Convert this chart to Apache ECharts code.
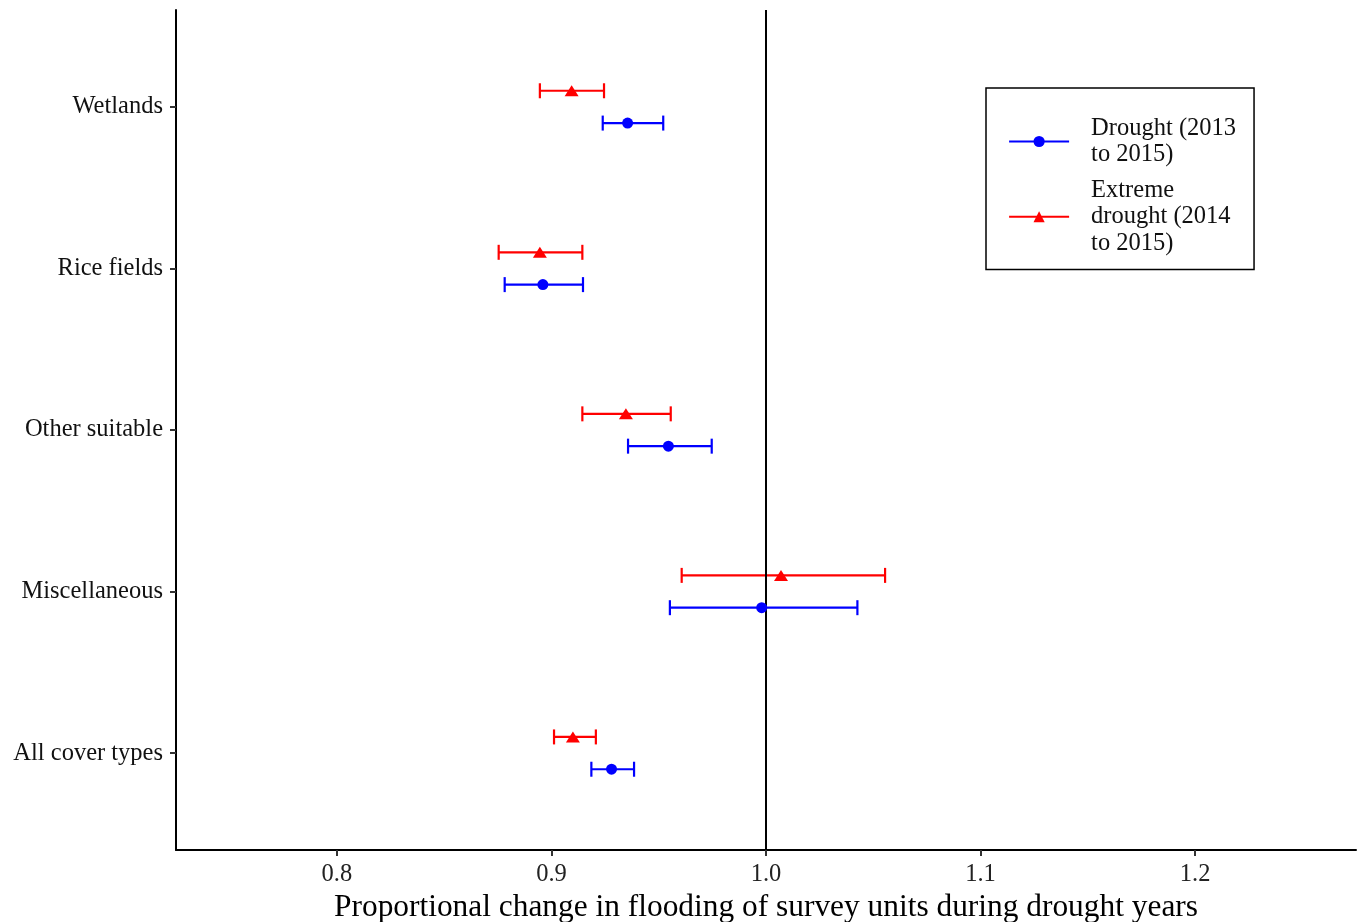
<!DOCTYPE html>
<html lang="en" style="height: 100%">
<head>
  <meta charset="utf-8">
</head>
<body style="height: 100%; margin: 0">
  <div id="container" style="width: 1361px; height: 922px"></div>

  <script type="text/javascript" src="https://cdn.jsdelivr.net/npm/echarts@6/dist/echarts.min.js"></script>
  <script type="text/javascript">
    // cover types, bottom to top (y = 1..5)
    var coverTypes = ['All cover types', 'Miscellaneous', 'Other suitable', 'Rice fields', 'Wetlands'];

    // Drought (2013 to 2015)
    var droughtMean = [0.928, 0.998, 0.9545, 0.896, 0.9355];
    var droughtLow = [0.9186, 0.9552, 0.9357, 0.8782, 0.9239];
    var droughtHigh = [0.9385, 1.0426, 0.9747, 0.9147, 0.9521];

    // Extreme drought (2014 to 2015)
    var extremeMean = [0.910, 1.007, 0.9347, 0.8946, 0.9094];
    var extremeLow = [0.9012, 0.9607, 0.9144, 0.8754, 0.8946];
    var extremeHigh = [0.9207, 1.0555, 0.9556, 0.9144, 0.9245];

    var xTicks = [0.8, 0.9, 1.0, 1.1, 1.2];

    var FONT = '"Liberation Serif", "DejaVu Serif", serif';
    var BLUE = '#0000ff';
    var RED = '#ff0000';
    var DODGE = 0.1;

    var dom = document.getElementById('container');
    var myChart = echarts.init(dom, null, { renderer: 'canvas' });

    function yPos(i, off) { return i + 1 + off; }

    function barData(low, high, off) {
      return low.map(function (v, i) { return [v, high[i], yPos(i, off)]; });
    }
    function pointData(mean, off) {
      return mean.map(function (v, i) { return [v, yPos(i, off)]; });
    }

    function errorBar(color) {
      return function (params, api) {
        var y = api.value(2);
        var a = api.coord([api.value(0), y]);
        var b = api.coord([api.value(1), y]);
        var h = 7.5;
        var style = { stroke: color, lineWidth: 2.2 };
        return {
          type: 'group',
          children: [
            { type: 'line', shape: { x1: a[0], y1: a[1], x2: b[0], y2: b[1] }, style: style },
            { type: 'line', shape: { x1: a[0], y1: a[1] - h, x2: a[0], y2: a[1] + h }, style: style },
            { type: 'line', shape: { x1: b[0], y1: b[1] - h, x2: b[0], y2: b[1] + h }, style: style }
          ]
        };
      };
    }

    var option = {
      animation: false,
      backgroundColor: '#ffffff',
      grid: { left: 176, right: 5, top: 10, bottom: 72, outerBoundsMode: 'none', containLabel: false },
      legend: {
        orient: 'vertical',
        left: 986,
        top: 88,
        padding: [27, 18, 13, 22],
        itemGap: 9,
        itemWidth: 60,
        itemHeight: 14,
        borderColor: '#000',
        borderWidth: 1.5,
        borderRadius: 0,
        lineStyle: { opacity: 1, width: 2.2 },
        textStyle: { fontFamily: FONT, fontSize: 24.5, color: '#111', lineHeight: 26.5, padding: [0, 0, 0, 17] },
        formatter: function (name) {
          return name === 'Drought' ? 'Drought (2013\nto 2015)' : 'Extreme\ndrought (2014\nto 2015)';
        },
        data: ['Drought', 'Extreme drought']
      },
      xAxis: {
        type: 'value',
        min: 0.725,
        max: 1.275,
        splitLine: { show: false },
        axisLine: { lineStyle: { color: '#000', width: 2 } },
        axisTick: { show: true, length: 6, lineStyle: { color: '#333', width: 2 }, customValues: xTicks },
        axisLabel: {
          customValues: xTicks,
          formatter: function (v) { return v.toFixed(1); },
          fontFamily: FONT, fontSize: 24.5, color: '#222', margin: 12
        },
        name: 'Proportional change in flooding of survey units during drought years',
        nameLocation: 'middle',
        nameGap: 41,
        nameTextStyle: { fontFamily: FONT, fontSize: 31.4, color: '#000' }
      },
      yAxis: {
        type: 'value',
        min: 0.4,
        max: 5.6,
        splitLine: { show: false },
        axisLine: { show: true, lineStyle: { color: '#000', width: 2 } },
        axisTick: { show: true, length: 6, lineStyle: { color: '#333', width: 2 }, customValues: [1, 2, 3, 4, 5] },
        axisLabel: {
          customValues: [1, 2, 3, 4, 5],
          formatter: function (v) { return coverTypes[Math.round(v) - 1]; },
          fontFamily: FONT, fontSize: 24.5, color: '#111', margin: 13,
          padding: [3, 0, 0, 0]
        }
      },
      series: [
        {
          name: 'Drought bars',
          type: 'custom',
          renderItem: errorBar(BLUE),
          data: barData(droughtLow, droughtHigh, -DODGE),
          encode: { x: [0, 1], y: 2 },
          silent: true,
          markLine: {
            silent: true,
            symbol: 'none',
            label: { show: false },
            lineStyle: { color: '#000', width: 2, type: 'solid' },
            data: [{ xAxis: 1 }]
          }
        },
        {
          name: 'Extreme bars',
          type: 'custom',
          renderItem: errorBar(RED),
          data: barData(extremeLow, extremeHigh, DODGE),
          encode: { x: [0, 1], y: 2 },
          silent: true
        },
        {
          name: 'Drought',
          type: 'line',
          data: pointData(droughtMean, -DODGE),
          symbol: 'circle',
          symbolSize: 11,
          itemStyle: { color: BLUE },
          lineStyle: { color: BLUE, opacity: 0 },
          z: 5
        },
        {
          name: 'Extreme drought',
          type: 'line',
          data: pointData(extremeMean, DODGE),
          symbol: 'triangle',
          symbolSize: [14, 11],
          itemStyle: { color: RED },
          lineStyle: { color: RED, opacity: 0 },
          z: 5
        }
      ]
    };

    myChart.setOption(option);
    window.addEventListener('resize', myChart.resize);
  </script>
</body>
</html>
